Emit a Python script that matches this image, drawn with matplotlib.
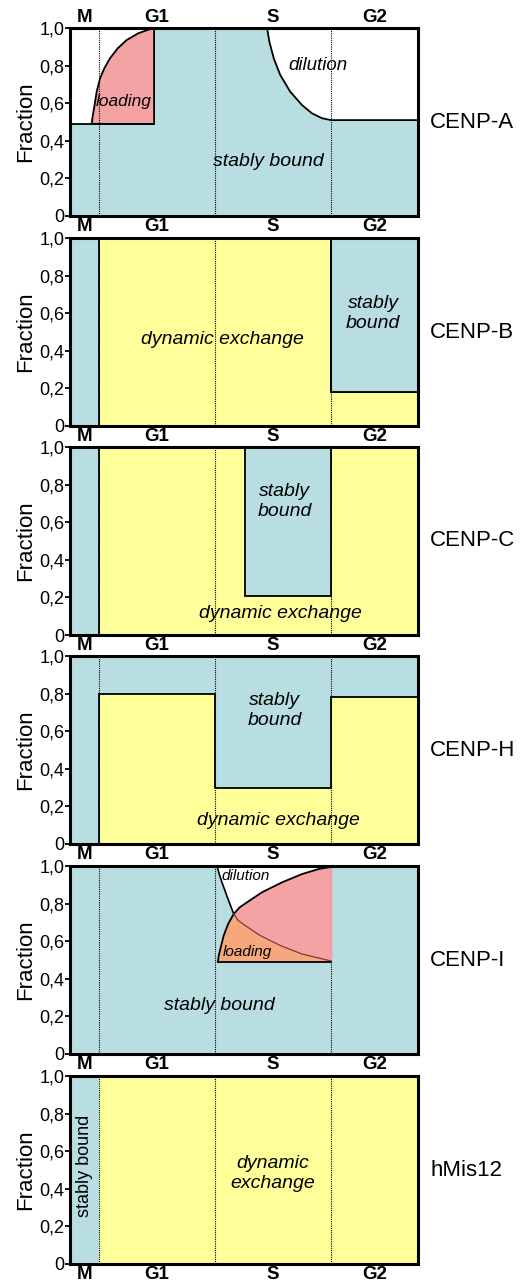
import matplotlib
matplotlib.use("Agg")
from matplotlib import pyplot as plt
from matplotlib.patches import Polygon

plt.rcParams["font.family"] = ["Liberation Sans", "DejaVu Sans"]

BLUE = "#b9dee2"
YELLOW = "#ffff99"
PINK = "#f4a2a3"
ORANGE = "#f6a77d"

# cell cycle in hours, phase boundaries and label positions
phase_edges = [2, 10, 18]
phase_names = ["M", "G1", "S", "G2"]
phase_centers = [1, 6, 14, 21]
proteins = ["CENP-A", "CENP-B", "CENP-C", "CENP-H", "CENP-I", "hMis12"]

# CENP-A
a_base = 0.49
a_g2 = 0.51
a_load_x = [1.5, 1.56, 1.66, 1.84, 2.07, 2.37, 2.76, 3.29, 3.91, 4.71, 5.4, 5.8]
a_load_y = [0.49, 0.53, 0.573, 0.661, 0.732, 0.786, 0.839, 0.892, 0.936,
            0.972, 0.991, 1.0]
a_dil_x = [13.59, 13.75, 14.05, 14.5, 15.19, 16.0, 16.69, 17.38, 18.0]
a_dil_y = [1.0, 0.927, 0.839, 0.75, 0.661, 0.59, 0.546, 0.52, 0.51]

# CENP-B
b_g2_level = 0.18

# CENP-C
c_stable_x = [12.07, 18.0]
c_stable_bottom = 0.21

# CENP-H: upper edge of dynamic exchange per phase G1, S, G2
h_levels = [0.80, 0.30, 0.78]

# CENP-I (curves split at their crossing point)
i_base = 0.49
i_load_lo_x = [10.2, 10.25, 10.37, 10.6, 10.9, 11.29]
i_load_lo_y = [0.49, 0.52, 0.559, 0.63, 0.691, 0.745]
i_load_hi_x = [11.29, 11.7, 12.21, 13.24, 14.62, 16.0, 17.15, 17.84, 18.0]
i_load_hi_y = [0.745, 0.78, 0.807, 0.86, 0.913, 0.957, 0.984, 0.993, 0.995]
i_dil_lo_x = [10.14, 10.3, 10.48, 10.9, 11.29]
i_dil_lo_y = [1.0, 0.955, 0.913, 0.824, 0.745]
i_dil_hi_x = [11.29, 11.6, 12.09, 13.12, 14.5, 16.0, 17.61, 18.0]
i_dil_hi_y = [0.745, 0.71, 0.683, 0.63, 0.577, 0.532, 0.502, 0.495]

W, H = 524, 1283
fig = plt.figure(figsize=(W / 100, H / 100), dpi=100)

tops = [28, 238, 447, 656, 866, 1076]
ph = 188
axes = []
for t in tops:
    ax = fig.add_axes([70 / W, 1 - (t + ph) / H, 348 / W, ph / H])
    axes.append(ax)


def poly(ax, pts, color, edge=False, z=1):
    ax.add_patch(Polygon(pts, closed=True, facecolor=color,
                         edgecolor="black" if edge else "none",
                         lw=1.3, zorder=z + (1 if edge else 0)))


def label(ax, x, y, s, size=14, **kw):
    ax.text(x, y, s, style="italic", fontsize=size, ha="center", va="center",
            zorder=10, **kw)


# panel 1: CENP-A
ax = axes[0]
ax.set_facecolor("white")
stable = [(0, 0), (0, a_base), (a_load_x[-1], a_base), (a_load_x[-1], 1.0)]
stable += list(zip(a_dil_x, a_dil_y))
stable += [(24, a_g2), (24, 0)]
poly(ax, stable, BLUE)
load = list(zip(a_load_x, a_load_y)) + [(a_load_x[-1], a_base)]
poly(ax, load, PINK, edge=True)
ax.plot([0, a_load_x[-1]], [a_base, a_base], color="black", lw=1.3, zorder=5)
ax.plot(a_dil_x + [24], a_dil_y + [a_g2], color="black", lw=1.3, zorder=5)
label(ax, 3.68, 0.61, "loading", 12.5)
label(ax, 17.1, 0.80, "dilution", 13.5)
label(ax, 13.7, 0.29, "stably bound")

# panel 2: CENP-B
ax = axes[1]
poly(ax, [(0, 0), (2, 0), (2, 1), (0, 1)], BLUE)
poly(ax, [(2, 0), (2, 1), (18, 1), (18, b_g2_level), (24, b_g2_level), (24, 0)],
     YELLOW, edge=True)
poly(ax, [(18, b_g2_level), (18, 1), (24, 1), (24, b_g2_level)], BLUE, edge=True)
label(ax, 10.5, 0.46, "dynamic exchange")
label(ax, 20.9, 0.60, "stably\nbound")

# panel 3: CENP-C
ax = axes[2]
poly(ax, [(0, 0), (2, 0), (2, 1), (0, 1)], BLUE)
poly(ax, [(2, 0), (2, 1), (24, 1), (24, 0)], YELLOW, edge=True)
poly(ax, [(c_stable_x[0], c_stable_bottom), (c_stable_x[0], 1),
          (c_stable_x[1], 1), (c_stable_x[1], c_stable_bottom)], BLUE, edge=True)
label(ax, 14.8, 0.71, "stably\nbound")
label(ax, 14.5, 0.115, "dynamic exchange")

# panel 4: CENP-H
ax = axes[3]
poly(ax, [(0, 0), (24, 0), (24, 1), (0, 1)], BLUE)
edges = [2] + phase_edges[1:] + [24]
pts = [(2, 0)]
for k, lv in enumerate(h_levels):
    pts += [(edges[k], lv), (edges[k + 1], lv)]
pts += [(24, 0)]
poly(ax, pts, YELLOW, edge=True)
label(ax, 14.1, 0.71, "stably\nbound")
label(ax, 14.4, 0.127, "dynamic exchange")

# panel 5: CENP-I
ax = axes[4]
poly(ax, [(0, 0), (24, 0), (24, 1), (0, 1)], BLUE)
white = list(zip(i_dil_lo_x, i_dil_lo_y)) + list(zip(i_load_hi_x, i_load_hi_y))[1:]
white += [(18, 1.0)]
poly(ax, white, "white", z=2)
pink = list(zip(i_load_hi_x, i_load_hi_y)) + list(zip(i_dil_hi_x, i_dil_hi_y))[::-1][:-1]
poly(ax, pink, PINK, z=2)
orange = list(zip(i_load_lo_x, i_load_lo_y)) + list(zip(i_dil_hi_x, i_dil_hi_y))[1:]
orange += [(18, i_base)]
poly(ax, orange, ORANGE, z=2)
ax.plot(i_load_lo_x + i_load_hi_x[1:], i_load_lo_y + i_load_hi_y[1:],
        color="black", lw=1.3, zorder=5)
ax.plot(i_dil_lo_x, i_dil_lo_y, color="black", lw=1.2, zorder=5)
ax.plot(i_dil_hi_x, i_dil_hi_y, color="#7a3a3a", lw=0.9, zorder=5)
ax.plot([i_load_lo_x[0], 18], [i_base, i_base], color="black", lw=1.3, zorder=5)
ax.plot([18, 18], [i_base, 1.0], color=PINK, lw=1.0, zorder=4)
label(ax, 12.1, 0.945, "dilution", 11)
label(ax, 12.2, 0.54, "loading", 11)
label(ax, 10.3, 0.26, "stably bound")

# panel 6: hMis12
ax = axes[5]
poly(ax, [(0, 0), (2, 0), (2, 1), (0, 1)], BLUE)
poly(ax, [(2, 0), (2, 1), (24, 1), (24, 0)], YELLOW)
ax.text(0.97, 0.52, "stably bound", rotation=90, fontsize=13, ha="center",
        va="center", zorder=10)
label(ax, 13.95, 0.48, "dynamic\nexchange")

for i, ax in enumerate(axes):
    ax.set_xlim(0, 24)
    ax.set_ylim(0, 1)
    for x in phase_edges:
        ax.axvline(x, color="black", lw=0.8, ls=(0, (1, 1)), zorder=3)
    for sp in ax.spines.values():
        sp.set_linewidth(2.2)
        sp.set_zorder(20)
    ax.set_yticks([0, 0.2, 0.4, 0.6, 0.8, 1.0])
    ax.set_yticklabels(["0", "0,2", "0,4", "0,6", "0,8", "1,0"])
    ax.tick_params(axis="y", length=3.5, width=1.3, pad=0.5, labelsize=13)
    ax.set_xticks(phase_centers)
    ax.set_xticklabels(phase_names, fontweight="bold")
    ax.tick_params(axis="x", length=0, pad=1.5, labelsize=13.5,
                   labeltop=(i == 0))
    ax.set_ylabel("Fraction", fontsize=16, labelpad=2)
    ax.text(1.035, 0.5, proteins[i], transform=ax.transAxes, fontsize=16,
            ha="left", va="center")

fig.savefig("out.png", dpi=100)
